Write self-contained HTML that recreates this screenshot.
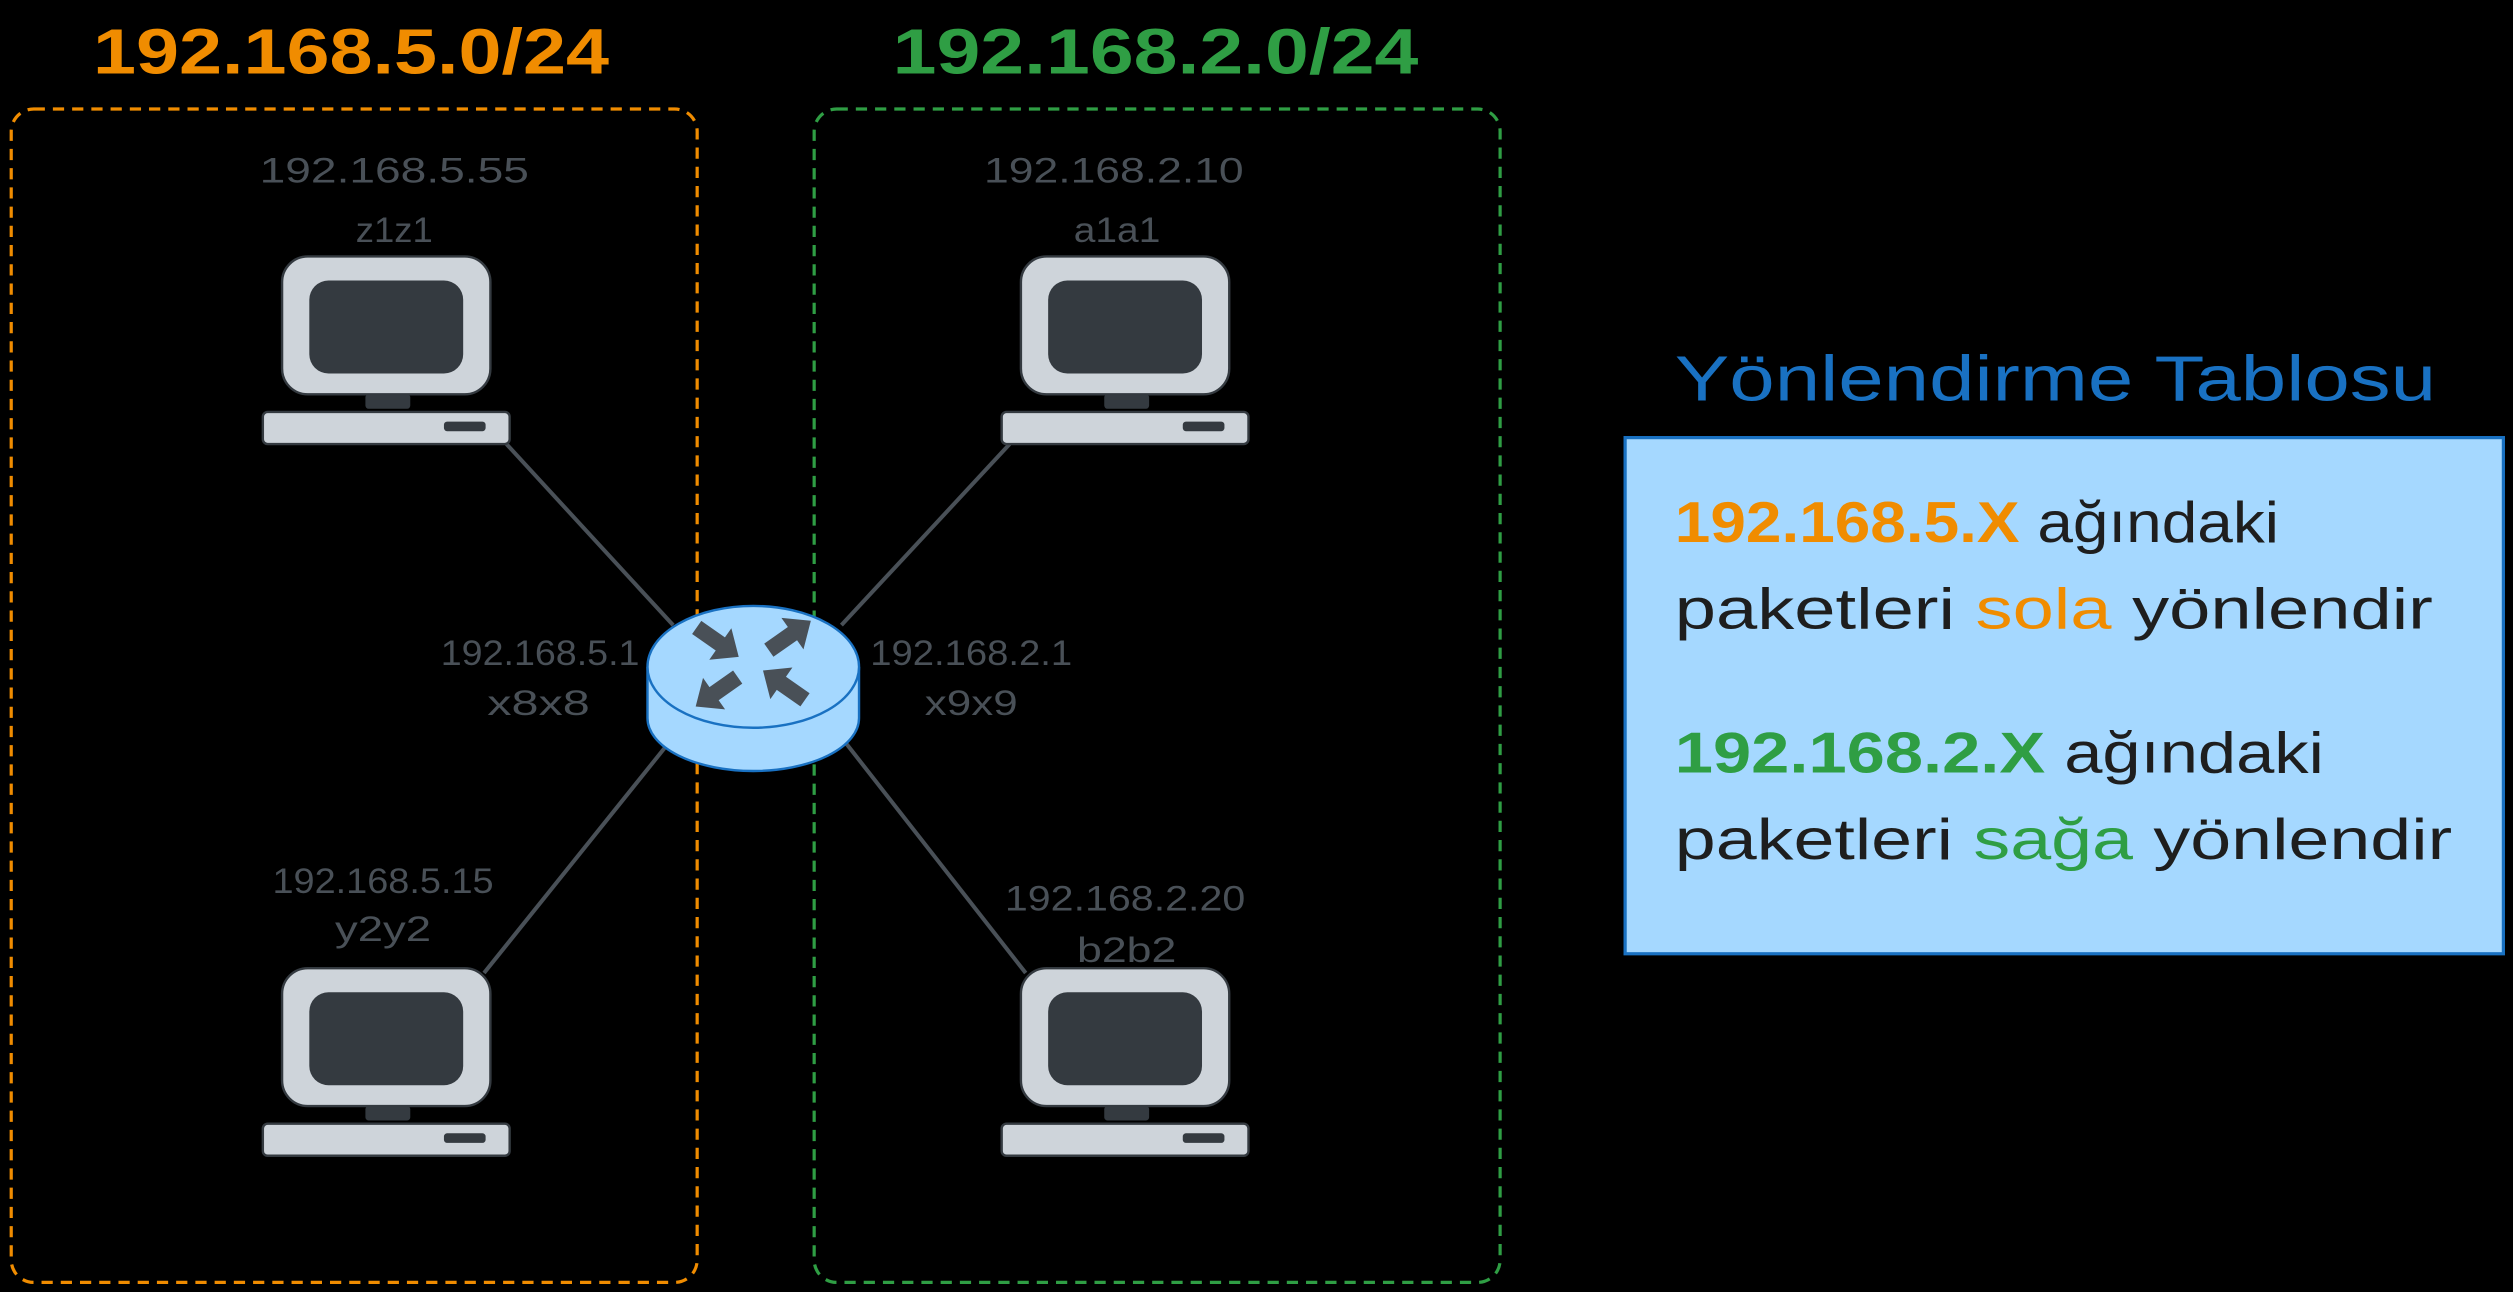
<!DOCTYPE html>
<html><head><meta charset="utf-8"><style>
html,body{margin:0;padding:0;background:#000;}
svg{display:block;}
text{font-family:"Liberation Sans","DejaVu Sans",sans-serif;}
</style></head><body>
<svg width="2513" height="1292" viewBox="0 0 1568 806" preserveAspectRatio="none" xmlns="http://www.w3.org/2000/svg">
<defs>
<g id="pc">
  <rect x="0" y="0" width="130" height="86" rx="16" fill="#ced4da" stroke="#343a40" stroke-width="1.5"/>
  <rect x="17" y="15" width="96" height="58" rx="12" fill="#343a40"/>
  <rect x="52" y="86" width="28" height="9" rx="2" fill="#343a40"/>
  <rect x="-12" y="97" width="154" height="20" rx="3" fill="#ced4da" stroke="#343a40" stroke-width="1.5"/>
  <rect x="101" y="103" width="26" height="6" rx="2" fill="#343a40"/>
</g>
<polygon id="arr" points="-15,-5 3,-5 3,-12 17,0 3,12 3,5 -15,5" fill="#495057"/>
</defs>
<rect width="1568" height="806" fill="#000"/>
<rect x="7" y="68" width="428" height="732" rx="14" fill="none" stroke="#f08c00" stroke-width="2" stroke-dasharray="7 5"/>
<rect x="508" y="68" width="428" height="732" rx="14" fill="none" stroke="#2f9e44" stroke-width="2" stroke-dasharray="7 5"/>
<text x="58" y="46" font-size="40" font-weight="bold" fill="#f08c00" textLength="322" lengthAdjust="spacingAndGlyphs">192.168.5.0/24</text>
<text x="557" y="46" font-size="40" font-weight="bold" fill="#2f9e44" textLength="328" lengthAdjust="spacingAndGlyphs">192.168.2.0/24</text>
<g stroke="#495057" stroke-width="2.5">
<line x1="316" y1="277" x2="420" y2="390"/>
<line x1="630" y1="277" x2="525" y2="390"/>
<line x1="302" y1="607" x2="420" y2="460"/>
<line x1="640" y1="607" x2="525" y2="460"/>
</g>
<use href="#pc" x="176" y="160"/>
<use href="#pc" x="637" y="160"/>
<use href="#pc" x="176" y="604"/>
<use href="#pc" x="637" y="604"/>
<g fill="#495057" font-size="22">
<text x="162" y="114" textLength="168" lengthAdjust="spacingAndGlyphs">192.168.5.55</text>
<text x="222" y="151" textLength="48" lengthAdjust="spacingAndGlyphs">z1z1</text>
<text x="614" y="114" textLength="162" lengthAdjust="spacingAndGlyphs">192.168.2.10</text>
<text x="670" y="151" textLength="54" lengthAdjust="spacingAndGlyphs">a1a1</text>
<text x="170" y="557" textLength="138" lengthAdjust="spacingAndGlyphs">192.168.5.15</text>
<text x="209" y="587" textLength="60" lengthAdjust="spacingAndGlyphs">y2y2</text>
<text x="627" y="568" textLength="150" lengthAdjust="spacingAndGlyphs">192.168.2.20</text>
<text x="672" y="600" textLength="62" lengthAdjust="spacingAndGlyphs">b2b2</text>
<text x="275" y="415" textLength="124" lengthAdjust="spacingAndGlyphs">192.168.5.1</text>
<text x="304" y="446" textLength="64" lengthAdjust="spacingAndGlyphs">x8x8</text>
<text x="543" y="415" textLength="126" lengthAdjust="spacingAndGlyphs">192.168.2.1</text>
<text x="577" y="446" textLength="58" lengthAdjust="spacingAndGlyphs">x9x9</text>
</g>
<g stroke="#1971c2" stroke-width="1.5">
<path d="M404 416 L404 448 A66 33 0 0 0 536 448 L536 416" fill="#a5d8ff"/>
<ellipse cx="470" cy="416" rx="66" ry="38" fill="#a5d8ff"/>
</g>
<use href="#arr" transform="translate(447,400) rotate(35)"/>
<use href="#arr" transform="translate(492,397) rotate(-35)"/>
<use href="#arr" transform="translate(448,431) rotate(145)"/>
<use href="#arr" transform="translate(490,428) rotate(215)"/>
<text x="1045" y="250" font-size="40" fill="#1971c2" textLength="475" lengthAdjust="spacingAndGlyphs">Yönlendirme Tablosu</text>
<rect x="1014" y="273" width="548" height="322" fill="#a5d8ff" stroke="#1971c2" stroke-width="2"/>
<g font-size="36" fill="#1e1e1e">
<text x="1045" y="338" textLength="377" lengthAdjust="spacingAndGlyphs"><tspan fill="#f08c00" font-weight="bold">192.168.5.X</tspan> ağındaki</text>
<text x="1045" y="392" textLength="473" lengthAdjust="spacingAndGlyphs">paketleri <tspan fill="#f08c00">sola</tspan> yönlendir</text>
<text x="1045" y="482" textLength="405" lengthAdjust="spacingAndGlyphs"><tspan fill="#2f9e44" font-weight="bold">192.168.2.X</tspan> ağındaki</text>
<text x="1045" y="536" textLength="485" lengthAdjust="spacingAndGlyphs">paketleri <tspan fill="#2f9e44">sağa</tspan> yönlendir</text>
</g>
</svg>
</body></html>
